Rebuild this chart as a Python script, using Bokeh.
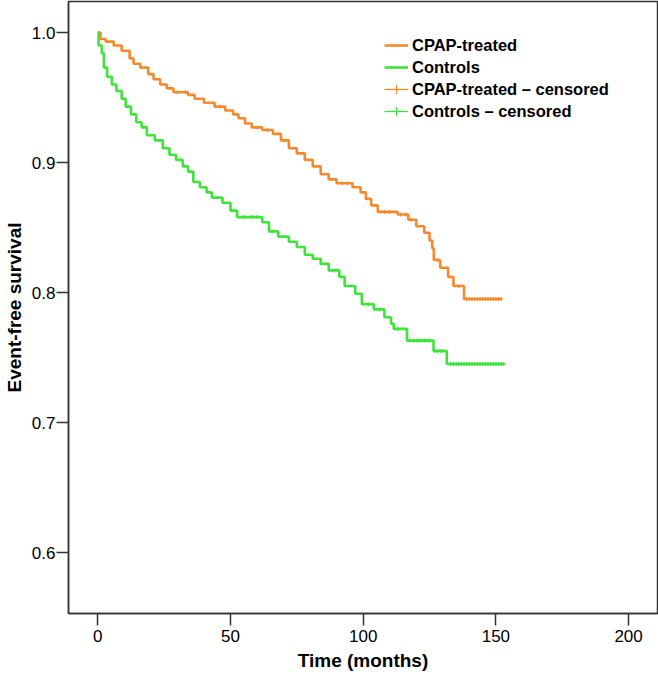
import numpy as np
from bokeh.plotting import figure
from bokeh.models import Legend, LegendItem, FixedTicker, Range1d, PrintfTickFormatter
from bokeh.embed import file_html
from bokeh.resources import INLINE

# ---- data ----
cpap_time = [0, 1, 3, 6, 9, 12, 13.5, 16, 19, 21, 23.5, 26, 28.5, 34, 36.5, 40, 44, 48,
             51, 53, 55.5, 58, 62, 66, 69, 72, 75, 78, 81, 84, 87, 90, 96, 99, 101, 103,
             105.5, 113, 117, 120, 123, 125, 126, 126.6, 129, 132, 134, 138]
cpap_surv = [1.000, 0.995, 0.993, 0.990, 0.986, 0.980, 0.976, 0.973, 0.968, 0.964, 0.960,
             0.957, 0.954, 0.952, 0.949, 0.946, 0.943, 0.940, 0.937, 0.934, 0.930, 0.927,
             0.925, 0.922, 0.917, 0.911, 0.907, 0.902, 0.897, 0.891, 0.887, 0.884, 0.881,
             0.877, 0.872, 0.867, 0.862, 0.860, 0.856, 0.851, 0.846, 0.840, 0.834, 0.825,
             0.819, 0.812, 0.805, 0.795]
cpap_end = 152

ctrl_time = [0, 0.3, 1.5, 2.3, 3.5, 5.3, 7, 9, 10.5, 12.5, 14.5, 16.5, 18.5, 21.5, 24.5, 27,
             29.5, 32, 34, 36, 38.5, 41, 43, 47, 50, 52.5, 62, 64.5, 68, 72, 75, 78, 81, 84,
             87, 91, 93, 97, 99.5, 104, 108, 110.5, 111.5, 116.5, 126.5, 131.5]
ctrl_surv = [1.000, 0.990, 0.984, 0.973, 0.966, 0.960, 0.955, 0.949, 0.943, 0.937, 0.931,
             0.927, 0.921, 0.917, 0.911, 0.906, 0.902, 0.897, 0.893, 0.885, 0.881, 0.877,
             0.873, 0.869, 0.863, 0.858, 0.854, 0.847, 0.843, 0.839, 0.835, 0.829, 0.826,
             0.822, 0.817, 0.812, 0.805, 0.799, 0.791, 0.787, 0.781, 0.776, 0.772, 0.763,
             0.755, 0.745]
ctrl_end = 153

cpap_censored = [30, 33, 46, 60, 64, 70, 92, 94, 108, 110, 114, 116, 118, 128, 136, 139,
                 140, 141, 142, 143, 144, 145, 146, 147, 148, 149, 150, 151, 152]
ctrl_censored = [55, 58, 60, 66, 89, 102, 106, 113, 117.5, 119, 120, 121, 122, 123, 124,
                 125, 127, 128, 129, 130, 133, 134, 135, 136, 137, 138, 139, 140, 141, 142,
                 143, 144, 145, 146, 147, 148, 149, 150, 151, 152, 153]

x_ticks = [0, 50, 100, 150, 200]
y_ticks = [0.6, 0.7, 0.8, 0.9, 1.0]

series_names = ["CPAP-treated", "Controls"]
censored_names = ["CPAP-treated \u2013 censored", "Controls \u2013 censored"]

ORANGE = "#F5892B"
GREEN = "#3DE43A"
FONT = "Liberation Sans"
AXIS_COL = "#333333"


def surv_at(times, survs, t):
    idx = np.searchsorted(np.asarray(times), np.asarray(t), side="right") - 1
    return list(np.asarray(survs)[idx])


p = figure(frame_width=589, frame_height=612, output_backend="svg", toolbar_location=None,
           x_range=Range1d(-11.04, 210.89), y_range=Range1d(0.55308, 1.02385),
           min_border_left=68, min_border_right=1, min_border_top=1, min_border_bottom=58)

p.xgrid.visible = False
p.ygrid.visible = False
p.outline_line_color = AXIS_COL
p.outline_line_width = 1.5

# curves
step_r = []
cens_r = []
for times, survs, end, cens, col in [
        (cpap_time, cpap_surv, cpap_end, cpap_censored, ORANGE),
        (ctrl_time, ctrl_surv, ctrl_end, ctrl_censored, GREEN)]:
    xs = list(times) + [end]
    ys = list(survs) + [survs[-1]]
    r = p.step(x=xs, y=ys, mode="after", line_color=col, line_width=2.6)
    step_r.append(r)
    cy = surv_at(times, survs, cens)
    c = p.scatter(x=cens, y=cy, marker="cross", size=4, line_color=col, line_width=1.2)
    cens_r.append(c)

# dummy line renderers (no visible data) for the censored legend icon
dummy = []
for col in [ORANGE, GREEN]:
    dummy.append(p.line(x=[np.nan], y=[np.nan], line_color=col, line_width=1.3))

items = [
    LegendItem(label=series_names[0], renderers=[step_r[0]]),
    LegendItem(label=series_names[1], renderers=[step_r[1]]),
    LegendItem(label=censored_names[0], renderers=[dummy[0], cens_r[0]]),
    LegendItem(label=censored_names[1], renderers=[dummy[1], cens_r[1]]),
]
legend = Legend(items=items, location=(316, 491))
legend.background_fill_alpha = 0
legend.border_line_alpha = 0
legend.padding = 0
legend.margin = 0
legend.spacing = 0
legend.glyph_width = 24
legend.glyph_height = 22
legend.label_height = 22
legend.label_standoff = 4
legend.label_text_font = FONT
legend.label_text_font_style = "bold"
legend.label_text_font_size = "16.5px"
legend.label_text_color = "black"
p.add_layout(legend)

# axes
for ax in (p.xaxis[0], p.yaxis[0]):
    ax.axis_line_color = AXIS_COL
    ax.axis_line_width = 1.5
    ax.major_tick_line_color = AXIS_COL
    ax.major_tick_line_width = 1.5
    ax.major_tick_in = 0
    ax.major_tick_out = 12
    ax.minor_tick_line_color = None
    ax.major_label_text_font = FONT
    ax.major_label_text_font_size = "17px"
    ax.major_label_text_color = "black"
    ax.axis_label_text_font = FONT
    ax.axis_label_text_font_style = "bold"
    ax.axis_label_text_font_size = "19px"
    ax.axis_label_text_color = "black"

p.xaxis.ticker = FixedTicker(ticks=x_ticks)
p.yaxis.ticker = FixedTicker(ticks=y_ticks)
p.yaxis.formatter = PrintfTickFormatter(format="%.1f")
p.xaxis.axis_label = "Time (months)"
p.yaxis.axis_label = "Event-free survival"
p.xaxis.major_label_standoff = 4
p.xaxis.axis_label_standoff = 5
p.yaxis.major_label_standoff = 1
p.yaxis.axis_label_standoff = 4

open("out.html", "w").write(file_html(p, INLINE))
